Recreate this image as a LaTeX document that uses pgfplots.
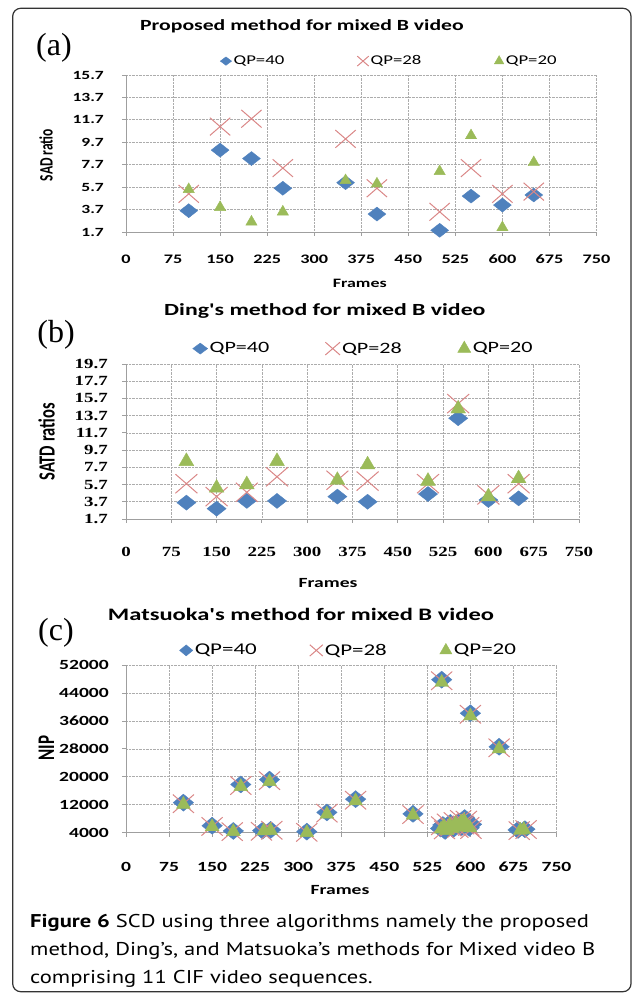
\documentclass[border=0pt]{standalone}
\usepackage{fontspec}
\usepackage{graphicx}
\usepackage{pgfplots}
\pgfplotsset{compat=1.18}
\newfontfamily\cf[FakeStretch=1.4]{Carlito}
\newfontfamily\cfp{Carlito}
\newfontfamily\tsf[FakeStretch=1.35]{Liberation Serif}
\newfontfamily\labf{Liberation Serif}
\newfontfamily\capf[FakeStretch=1.22]{PT Sans}
\definecolor{cblue}{RGB}{79,129,189}
\definecolor{cred}{RGB}{218,135,135}
\definecolor{cgreen}{RGB}{155,187,89}
\pgfplotsset{
  excel/.style={
    scale only axis, clip=false, anchor=south west,
    xmin=0, xmax=750,
    xtick={0,75,150,225,300,375,450,525,600,675,750},
    xticklabels={0,75,150,225,300,375,450,525,600,675,750},
    scaled x ticks=false, scaled y ticks=false,
    axis lines=left, axis line style={-, gray!75, line width=0.8pt},
    tick align=outside, major tick length=4pt, tick style={gray!75, line width=0.8pt},
    grid=major, major grid style={densely dotted, gray!65, line width=0.7pt},
    legend columns=3,
    legend style={draw=none, fill=none, inner sep=0pt, anchor=west, nodes={inner xsep=2pt, inner ysep=0pt}},
    legend cell align=left,
    legend image code/.code={\draw[##1] plot coordinates {(0pt,0pt)};},
    title style={anchor=center, inner sep=0pt},
    xlabel style={anchor=center, inner sep=0pt},
    ylabel style={anchor=center, inner sep=0pt},
    xticklabel style={anchor=center, inner sep=0pt},
    yticklabel style={anchor=east, inner sep=0pt},
  },
  s40/.style={only marks, mark=diamond*, color=cblue, mark options={fill=cblue, draw=cblue, xscale=#1}},
  s28/.style={only marks, mark=x, color=cred, mark options={draw=cred, line width=1pt, xscale=1.15}},
  s20/.style={only marks, mark=triangle*, color=cgreen, mark options={fill=cgreen, draw=cgreen}},
}
\begin{document}
\begin{tikzpicture}
\path[use as bounding box] (0pt,0pt) rectangle (634pt,996pt);
\draw[line width=1.2pt, black!80, rounded corners=8pt] (12.7pt,987.7pt) rectangle (631pt,4.3pt);

% ---------------- (a)
\begin{axis}[excel, at={(126pt,764pt)}, width=470.5pt, height=157pt,
  ymin=1.7, ymax=15.7,
  ytick={1.7,3.7,5.7,7.7,9.7,11.7,13.7,15.7},
  yticklabels={1.7,3.7,5.7,7.7,9.7,11.7,13.7,15.7},
  xticklabel style={font=\cf\bfseries\fontsize{13}{13}\selectfont, yshift=-23pt},
  yticklabel style={font=\cf\bfseries\fontsize{12.5}{12.5}\selectfont, xshift=-18pt},
  title={\cf\bfseries\fontsize{15.5}{15.5}\selectfont Proposed method for mixed B video},
  title style={at={(axis description cs:0.374,1.274)}},
  xlabel={\cf\bfseries\fontsize{12.8}{12.8}\selectfont Frames},
  xlabel style={at={(axis description cs:0.497,-0.325)}},
  ylabel={\scalebox{1}[1.4]{\cfp\bfseries\fontsize{13.5}{13.5}\selectfont SAD ratio}},
  ylabel style={at={(axis description cs:-0.170,0.490)}},
  legend style={at={(axis description cs:0.20,1.089)}, font=\cf\fontsize{13.4}{13.4}\selectfont,
    /tikz/every even column/.append style={column sep=71pt}},
]
\addlegendimage{s40=1.8, mark size=4.2pt}\addlegendentry{QP=40}
\addlegendimage{s28, mark size=7pt}\addlegendentry{QP=28}
\addlegendimage{s20, mark size=5.5pt}\addlegendentry{QP=20}
\addplot[s40=1.7, mark size=7pt, forget plot] coordinates {(100,3.6)(150,9.0)(200,8.25)(250,5.6)(350,6.1)(400,3.3)(500,1.85)(550,4.9)(600,4.1)(650,5.0)};
\addplot[s28, mark size=12.5pt, forget plot] coordinates {(100,5.1)(150,11.1)(200,11.8)(250,7.4)(350,10.0)(400,5.6)(500,3.5)(550,7.4)(600,5.1)(650,5.3)};
\addplot[s20, mark size=6.5pt, forget plot] coordinates {(100,5.5)(150,3.9)(200,2.6)(250,3.5)(350,6.3)(400,6.0)(500,7.1)(550,10.3)(600,2.1)(650,7.9)};
\end{axis}

% ---------------- (b)
\begin{axis}[excel, at={(126pt,477pt)}, width=453pt, height=155pt,
  ymin=1.7, ymax=19.7,
  ytick={1.7,3.7,5.7,7.7,9.7,11.7,13.7,15.7,17.7,19.7},
  yticklabels={1.7,3.7,5.7,7.7,9.7,11.7,13.7,15.7,17.7,19.7},
  xticklabel style={font=\tsf\bfseries\fontsize{14}{14}\selectfont, yshift=-29pt},
  yticklabel style={font=\tsf\bfseries\fontsize{14}{14}\selectfont, xshift=-14pt},
  title={\cf\bfseries\fontsize{17}{17}\selectfont Ding's method for mixed B video},
  title style={at={(axis description cs:0.439,1.303)}},
  xlabel={\cf\bfseries\fontsize{14}{14}\selectfont Frames},
  xlabel style={at={(axis description cs:0.446,-0.413)}},
  ylabel={\scalebox{1}[1.4]{\cfp\bfseries\fontsize{16.5}{16.5}\selectfont SATD ratios}},
  ylabel style={at={(axis description cs:-0.1755,0.497)}},
  legend style={at={(axis description cs:0.147,1.103)}, font=\cf\fontsize{15.8}{15.8}\selectfont,
    /tikz/every even column/.append style={column sep=54pt}},
]
\addlegendimage{s40=1.8, mark size=5.5pt}\addlegendentry{QP=40}
\addlegendimage{s28, mark size=9pt}\addlegendentry{QP=28}
\addlegendimage{s20, mark size=7.5pt}\addlegendentry{QP=20}
\addplot[s40=1.7, mark size=7.5pt, forget plot] coordinates {(100,3.6)(150,2.9)(200,3.8)(250,3.8)(350,4.3)(400,3.7)(500,4.6)(550,13.4)(600,3.9)(650,4.1)};
\addplot[s28, mark size=13.5pt, forget plot] coordinates {(100,5.8)(150,4.3)(200,4.8)(250,6.6)(350,6.2)(400,6.1)(500,5.8)(550,15.1)(600,4.5)(650,5.8)};
\addplot[s20, mark size=8.5pt, forget plot] coordinates {(100,8.4)(150,5.3)(200,5.7)(250,8.4)(350,6.2)(400,8.0)(500,6.1)(550,14.5)(600,4.3)(650,6.4)};
\end{axis}

% ---------------- (c)
\begin{axis}[excel, at={(126pt,163.3pt)}, width=430.5pt, height=167.7pt,
  ymin=4000, ymax=52000,
  ytick={4000,12000,20000,28000,36000,44000,52000},
  yticklabels={4000,12000,20000,28000,36000,44000,52000},
  xticklabel style={font=\cf\bfseries\fontsize{14}{14}\selectfont, yshift=-30pt},
  yticklabel style={font=\cf\bfseries\fontsize{14}{14}\selectfont, xshift=-13pt},
  title={\cf\bfseries\fontsize{17.5}{17.5}\selectfont Matsuoka's method for mixed B video},
  title style={at={(axis description cs:0.4065,1.268)}},
  xlabel={\cf\bfseries\fontsize{14}{14}\selectfont Frames},
  xlabel style={at={(axis description cs:0.497,-0.342)}},
  ylabel={\scalebox{1}[1.4]{\cfp\bfseries\fontsize{17}{17}\selectfont NIP}},
  ylabel style={at={(axis description cs:-0.1847,0.505)}},
  legend style={at={(axis description cs:0.124,1.089)}, font=\cf\fontsize{16.4}{16.4}\selectfont,
    /tikz/every even column/.append style={column sep=51pt}},
]
\addlegendimage{s40=1.6, mark size=5.5pt}\addlegendentry{QP=40}
\addlegendimage{s28, mark size=8pt}\addlegendentry{QP=28}
\addlegendimage{s20, mark size=7pt}\addlegendentry{QP=20}
\addplot[s40=1.6, mark size=8.5pt, forget plot] coordinates {(100,12600)(150,6000)(187,4500)(200,17800)(238,4600)(250,19200)(252,4800)(315,4300)(350,9800)(400,13600)(500,9400)(550,47800)(600,38200)(650,28600)
 (548,5200)(552,6200)(556,4500)(560,5800)(565,6800)(570,5000)(575,6400)(580,7200)(585,5600)(590,8200)(594,6800)(598,5400)(602,6400)(683,4800)(695,5000)};
\addplot[s28, mark size=13pt, forget plot] coordinates {(100,12300)(150,5800)(185,4300)(200,17500)(236,4400)(250,18900)(254,4700)(315,4100)(350,9600)(400,13300)(500,9200)(550,47500)(600,37900)(650,28300)
 (550,6000)(555,4800)(560,6800)(566,5600)(572,7200)(578,5200)(583,7800)(588,6200)(593,7600)(597,5800)(601,4900)(685,4600)(697,4900)};
\addplot[s20, mark size=8pt, forget plot] coordinates {(100,12100)(150,5700)(187,4300)(200,17200)(240,4500)(250,18600)(252,4600)(315,4000)(350,9300)(400,13100)(500,9000)(550,47000)(600,37400)(650,28000)
 (549,5000)(554,5800)(559,4600)(564,6200)(569,5200)(574,6600)(579,5600)(584,7000)(589,7400)(594,6000)(599,5400)(687,4700)(693,4900)};
\end{axis}

% panel letters
\node[font=\labf\fontsize{32}{32}\selectfont] at (54pt,948pt) {(a)};
\node[font=\labf\fontsize{32}{32}\selectfont] at (56pt,661pt) {(b)};
\node[font=\labf\fontsize{32}{32}\selectfont] at (56pt,363pt) {(c)};

% caption
\node[anchor=base west, inner sep=0pt, font=\capf\fontsize{18.5}{18.5}\selectfont] at (30pt,68.3pt) {\textbf{Figure 6} SCD using three algorithms namely the proposed};
\node[anchor=base west, inner sep=0pt, font=\capf\fontsize{18.5}{18.5}\selectfont] at (30pt,40pt) {method, Ding’s, and Matsuoka’s methods for Mixed video B};
\node[anchor=base west, inner sep=0pt, font=\capf\fontsize{18.5}{18.5}\selectfont] at (30pt,12.7pt) {comprising 11 CIF video sequences.};
\end{tikzpicture}
\end{document}
